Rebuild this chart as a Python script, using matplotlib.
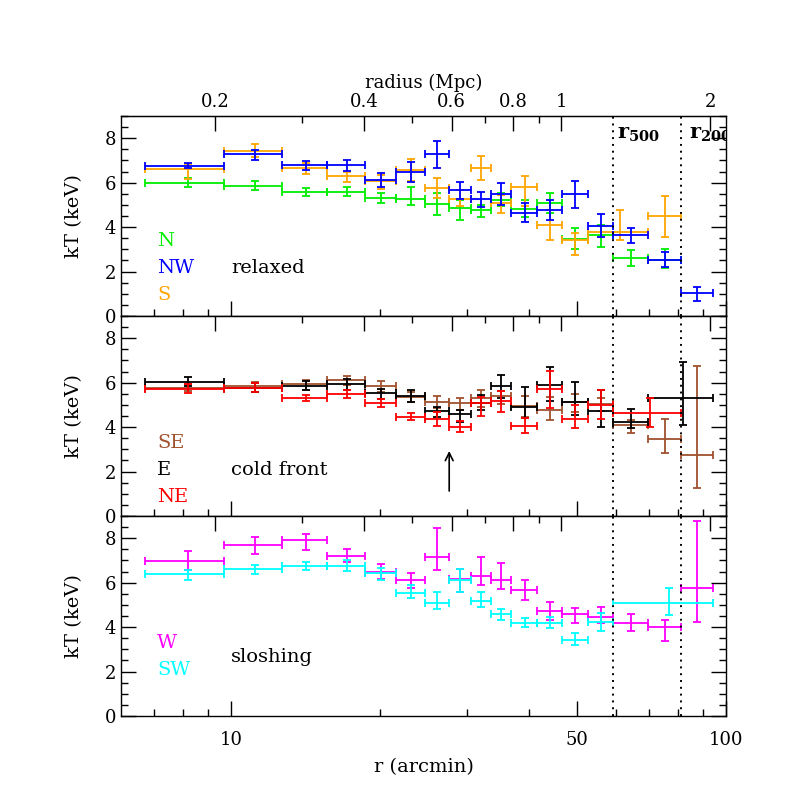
import matplotlib
matplotlib.use("Agg")
import matplotlib.pyplot as plt
from matplotlib.ticker import FixedLocator, NullFormatter, FixedFormatter, MultipleLocator
import numpy as np

plt.rcParams['font.family'] = ['DejaVu Serif']
plt.rcParams['mathtext.fontset'] = 'dejavuserif'

# ---------------- data ----------------
# common radial bin edges (arcmin)
edges = [6.7, 9.7, 12.7, 15.65, 18.65, 21.6, 24.65, 27.6, 30.5, 33.5,
         36.8, 41.6, 46.7, 52.6, 59.2, 69.5, 81.1, 94.0]
r500 = 59.2
r200 = 81.1
arcmin_to_mpc = 1.0 / 46.5

# top panel: relaxed
N_lo = edges[0:16]
N_hi = edges[1:17]
N_kT = [6.00, 5.86, 5.60, 5.60, 5.30, 5.27, 5.03, 4.88, 4.77, 5.23, 4.82, 5.08, 3.45, 3.65, 2.63, 2.52]
N_ep = [0.20, 0.20, 0.15, 0.20, 0.23, 0.53, 0.50, 0.35, 0.23, 0.30, 0.40, 0.45, 0.50, 0.45, 0.35, 0.50]
N_em = [0.20, 0.18, 0.20, 0.20, 0.20, 0.27, 0.48, 0.56, 0.33, 0.30, 0.35, 0.45, 0.45, 0.53, 0.36, 0.38]

NW_lo = edges[0:17]
NW_hi = edges[1:18]
NW_kT = [6.76, 7.30, 6.79, 6.80, 6.10, 6.50, 7.28, 5.65, 5.27, 5.48, 4.65, 4.77, 5.48, 4.07, 3.65, 2.52, 1.02]
NW_ep = [0.12, 0.18, 0.20, 0.23, 0.33, 0.45, 0.60, 0.38, 0.30, 0.50, 0.42, 0.45, 0.60, 0.51, 0.33, 0.38, 0.30]
NW_em = [0.12, 0.27, 0.21, 0.26, 0.30, 0.45, 0.60, 0.39, 0.35, 0.48, 0.40, 0.45, 0.63, 0.50, 0.35, 0.30, 0.35]

S_lo = edges[0:13] + [52.6, 69.5]
S_hi = edges[1:14] + [69.5, 81.1]
S_kT = [6.62, 7.43, 6.64, 6.28, 6.08, 6.55, 5.78, 5.27, 6.68, 5.08, 5.80, 4.10, 3.42, 3.80, 4.50]
S_ep = [0.22, 0.30, 0.24, 0.18, 0.27, 0.53, 0.42, 0.40, 0.54, 0.38, 0.48, 0.68, 0.30, 0.95, 0.90]
S_em = [0.45, 0.29, 0.24, 0.23, 0.38, 0.47, 0.48, 0.32, 0.56, 0.45, 0.87, 0.68, 0.68, 0.40, 0.93]

# middle panel: cold front
SE_lo = edges[0:17]
SE_hi = edges[1:18]
SE_kT = [5.78, 5.83, 5.95, 6.13, 5.87, 5.35, 5.15, 5.07, 5.30, 5.40, 4.95, 4.77, 5.12, 5.03, 4.10, 3.47, 2.75]
SE_ep = [0.15, 0.20, 0.18, 0.18, 0.21, 0.21, 0.26, 0.23, 0.35, 0.24, 0.45, 0.60, 0.38, 0.30, 0.23, 0.90, 4.02]
SE_em = [0.15, 0.23, 0.27, 0.23, 0.27, 0.24, 0.30, 0.30, 0.40, 0.36, 0.48, 0.45, 0.42, 0.30, 0.38, 0.62, 1.50]

E_lo = edges[0:15] + [69.5]
E_hi = edges[1:15] + [69.5, 94.0]
E_kT = [6.05, 5.75, 5.86, 5.93, 5.53, 5.40, 4.74, 4.58, 5.10, 5.83, 4.92, 5.91, 5.15, 4.73, 4.25, 5.33]
E_ep = [0.20, 0.23, 0.20, 0.23, 0.18, 0.27, 0.18, 0.20, 0.35, 0.53, 0.90, 0.79, 0.87, 0.95, 0.56, 1.62]
E_em = [0.20, 0.15, 0.21, 0.26, 0.27, 0.26, 0.27, 0.33, 0.33, 0.53, 0.53, 0.75, 0.60, 0.74, 0.30, 1.23]

NE_lo = edges[0:15]
NE_hi = edges[1:14] + [59.2, 81.1]
NE_kT = [5.72, 5.78, 5.30, 5.48, 5.07, 4.47, 4.37, 4.00, 5.07, 5.18, 4.05, 5.72, 4.37, 5.00, 4.65]
NE_ep = [0.20, 0.20, 0.15, 0.20, 0.18, 0.18, 0.33, 0.26, 0.30, 0.45, 0.35, 0.80, 0.63, 0.65, 0.65]
NE_em = [0.20, 0.18, 0.12, 0.15, 0.15, 0.15, 0.32, 0.24, 0.57, 0.48, 0.33, 0.85, 0.42, 0.65, 0.63]

# bottom panel: sloshing
W_lo = edges[0:17]
W_hi = edges[1:18]
W_kT = [6.98, 7.70, 7.90, 7.22, 6.50, 6.10, 7.15, 6.16, 6.28, 6.10, 5.68, 4.73, 4.59, 4.47, 4.17, 4.02, 5.75]
W_ep = [0.45, 0.35, 0.29, 0.30, 0.35, 0.33, 1.31, 0.47, 0.86, 0.78, 0.45, 0.39, 0.26, 0.45, 0.41, 0.30, 3.03]
W_em = [0.41, 0.41, 0.45, 0.30, 0.35, 0.35, 0.60, 0.59, 0.38, 0.38, 0.45, 0.41, 0.42, 0.30, 0.33, 0.63, 1.53]

SW_lo = edges[0:15]
SW_hi = edges[1:14] + [59.2, 94.0]
SW_kT = [6.40, 6.61, 6.77, 6.77, 6.43, 5.55, 5.08, 6.13, 5.18, 4.59, 4.20, 4.20, 3.42, 4.25, 5.10]
SW_ep = [0.18, 0.17, 0.18, 0.26, 0.23, 0.35, 0.48, 0.50, 0.38, 0.21, 0.23, 0.27, 0.30, 0.38, 0.68]
SW_em = [0.27, 0.21, 0.20, 0.23, 0.30, 0.23, 0.27, 0.53, 0.26, 0.27, 0.21, 0.23, 0.23, 0.42, 0.56]

panels = [
    ("relaxed", [("N", "#00ee00", N_lo, N_hi, N_kT, N_em, N_ep),
                 ("S", "#ffa500", S_lo, S_hi, S_kT, S_em, S_ep),
                 ("NW", "#0000ff", NW_lo, NW_hi, NW_kT, NW_em, NW_ep)],
     ["N", "NW", "S"]),
    ("cold front", [("SE", "#a0522d", SE_lo, SE_hi, SE_kT, SE_em, SE_ep),
                    ("E", "#000000", E_lo, E_hi, E_kT, E_em, E_ep),
                    ("NE", "#ff0000", NE_lo, NE_hi, NE_kT, NE_em, NE_ep)],
     ["SE", "E", "NE"]),
    ("sloshing", [("W", "#ff00ff", W_lo, W_hi, W_kT, W_em, W_ep),
                  ("SW", "#00ffff", SW_lo, SW_hi, SW_kT, SW_em, SW_ep)],
     ["W", "SW"]),
]

label_y = {"relaxed": [3.38, 2.16, 0.95], "cold front": [3.27, 2.07, 0.87],
           "sloshing": [3.30, 2.07]}
name_y = {"relaxed": 2.16, "cold front": 2.07, "sloshing": 2.67}
colors = {"N": "#00ee00", "NW": "#0000ff", "S": "#ffa500", "SE": "#a0522d",
          "E": "#000000", "NE": "#ff0000", "W": "#ff00ff", "SW": "#00ffff"}

# ---------------- figure ----------------
fig = plt.figure(figsize=(7.89, 7.89), dpi=100)
left, width, h = 0.1534, 0.7668, 0.2535
bottoms = [0.0925 + 2 * h, 0.0925 + h, 0.0925]
fs = 13

for i, (pname, series, order) in enumerate(panels):
    ax = fig.add_axes([left, bottoms[i], width, h])
    ax.set_xscale('log')
    for name, col, lo, hi, kT, em, ep in series:
        lo = np.array(lo); hi = np.array(hi)
        xc = 0.5 * (lo + hi)
        xe = 0.5 * (hi - lo)
        ax.errorbar(xc, kT, xerr=xe, yerr=[em, ep], fmt='none', ecolor=col,
                    elinewidth=1.3, capsize=3, capthick=1.3)
    ax.set_xlim(6, 100)
    ax.set_ylim(0, 9)
    ax.axvline(r500, color='k', ls=(0, (1, 2.5)), lw=1.4)
    ax.axvline(r200, color='k', ls=(0, (1, 2.5)), lw=1.4)

    ax.xaxis.set_major_locator(FixedLocator([10, 50, 100]))
    ax.xaxis.set_minor_locator(FixedLocator([7, 8, 9, 20, 30, 40, 60, 70, 80, 90]))
    ax.xaxis.set_minor_formatter(NullFormatter())
    ax.yaxis.set_major_locator(FixedLocator([0, 2, 4, 6, 8]))
    ax.yaxis.set_minor_locator(MultipleLocator(0.5))
    ax.tick_params(which='both', direction='in', top=False, right=True,
                   labelsize=fs, width=1.0)
    ax.tick_params(which='major', length=11)
    ax.tick_params(which='minor', length=5)
    ax.tick_params(axis='x', which='major', pad=11)
    for sp in ax.spines.values():
        sp.set_linewidth(1.0)
    if i == 2:
        ax.xaxis.set_major_formatter(FixedFormatter(['10', '50', '100']))
        ax.set_xlabel('r (arcmin)', fontsize=fs + 1, labelpad=6)
    else:
        ax.tick_params(axis='x', labelbottom=False)
    ax.set_ylabel('kT (keV)', fontsize=fs + 1)
    ax.yaxis.set_label_coords(-0.062, 0.5)

    sec = ax.secondary_xaxis('top', functions=(lambda r: r * arcmin_to_mpc,
                                               lambda m: m / arcmin_to_mpc))
    sec.xaxis.set_major_locator(FixedLocator([0.2, 0.4, 0.6, 0.8, 1, 2]))
    sec.xaxis.set_minor_locator(FixedLocator([0.3, 0.5, 0.7, 0.9]))
    sec.xaxis.set_minor_formatter(NullFormatter())
    sec.tick_params(which='both', direction='in', labelsize=fs, width=1.0)
    sec.tick_params(which='major', length=11)
    sec.tick_params(which='minor', length=5)
    if i == 0:
        sec.xaxis.set_major_formatter(FixedFormatter(['0.2', '0.4', '0.6', '0.8', '1', '2']))
        sec.set_xlabel('radius (Mpc)', fontsize=fs, labelpad=4)
        ax.text(60.3, 8.0, r'r$_{\mathbf{500}}$', fontsize=fs + 2, fontweight='bold',
                va='baseline', ha='left')
        ax.text(84.3, 8.0, r'r$_{\mathbf{200}}$', fontsize=fs + 2, fontweight='bold',
                va='baseline', ha='left', clip_on=True)
    else:
        sec.tick_params(labeltop=False)

    for lab, yy in zip(order, label_y[pname]):
        ax.text(7.1, yy, lab, color=colors[lab], fontsize=fs + 1, va='center', ha='left')
    ax.text(10.0, name_y[pname], pname, fontsize=fs + 1, va='center', ha='left')

    if i == 1:
        ax.annotate('', xy=(27.6, 3.05), xytext=(27.6, 1.0),
                    arrowprops=dict(arrowstyle='->', color='k', lw=1.2,
                                    mutation_scale=14))

fig.savefig('out.png', dpi=100)
